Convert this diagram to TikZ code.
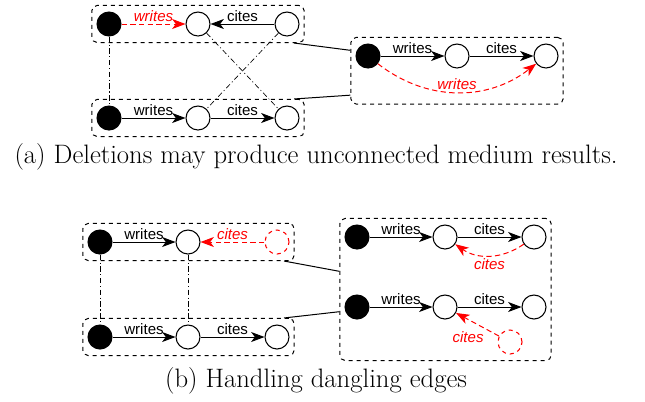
\documentclass[tikz,border=0pt]{standalone}
\usepackage{fontspec}
\setsansfont{Liberation Sans}
\usetikzlibrary{arrows.meta,fit}

\tikzset{
  pub/.style={circle,draw,fill=black,minimum size=18pt,inner sep=0pt,line width=0.8pt},
  doc/.style={circle,draw,fill=white,minimum size=18pt,inner sep=0pt,line width=0.8pt},
  gone/.style={doc,draw=red,dashed},
  group/.style={draw,dashed,rounded corners=4pt,line width=0.75pt,inner xsep=3.5pt,inner ysep=4.5pt},
  added/.style={red,dash pattern=on 4pt off 2.5pt},
  lbl/.style={font=\sffamily\fontsize{11.3}{13}\selectfont,inner sep=1.5pt},
  redlbl/.style={lbl,red,font=\sffamily\itshape\fontsize{11.3}{13}\selectfont},
  link/.style={dash pattern=on 4pt off 2pt on 0.8pt off 2pt,line width=0.5pt},
  subcap/.style={font=\fontsize{20}{23}\selectfont}
}

\begin{document}
\begin{tikzpicture}[x=0.75pt,y=-0.75pt,>={Stealth[length=10pt,width=7.5pt,inset=2.8pt]},line width=0.75pt]
      \useasboundingbox (0,0) rectangle (645,401);

      % (a)
      \node[pub] (a1) at (109,24)  {};
      \node[doc] (a2) at (198,24)  {};
      \node[doc] (a3) at (287,24)  {};
      \node[pub] (a4) at (109,118) {};
      \node[doc] (a5) at (198,118) {};
      \node[doc] (a6) at (287,118) {};
      \node[pub] (a7) at (368,56)  {};
      \node[doc] (a8) at (457,56)  {};
      \node[doc] (a9) at (546,56)  {};
      \coordinate (alow) at (457,98);

      \node[group,fit=(a1)(a3)] (ga1) {};
      \node[group,fit=(a4)(a6)] (ga2) {};
      \node[group,fit=(a7)(a9)(alow)] (ga3) {};

      \path[->,added] (a1) edge node[redlbl,above] {writes} (a2);
      \path[->] (a3) edge node[lbl,above] {cites}  (a2);
      \path[->] (a4) edge node[lbl,above] {writes} (a5);
      \path[->] (a5) edge node[lbl,above] {cites}  (a6);
      \path[->] (a7) edge node[lbl,above] {writes} (a8);
      \path[->] (a8) edge node[lbl,above] {cites}  (a9);
      \path[->,added] (a7) edge[bend right=38] node[redlbl,above] {writes} (a9);

      \draw[link] (a1) -- (a4);
      \draw[link] (a2) -- (a6);
      \draw[link] (a3) -- (a5);
      \draw ([xshift=-8pt]ga1.south east) -- ([yshift=-10pt]ga3.north west);
      \draw ([xshift=-8pt]ga2.north east) -- ([yshift=7pt]ga3.south west);

      \node[subcap] (capa) at (316,157) {(a) Deletions may produce unconnected medium results.};

      % (b)
      \node[pub]  (b1) at (100,242) {};
      \node[doc]  (b2) at (188,242) {};
      \node[gone] (b3) at (277,242) {};
      \node[pub]  (b4) at (100,337) {};
      \node[doc]  (b5) at (188,337) {};
      \node[doc]  (b6) at (277,337) {};
      \node[pub]  (b7) at (357,237) {};
      \node[doc]  (b8) at (445,237) {};
      \node[doc]  (b9) at (534,237) {};
      \node[pub]  (b10) at (357,307) {};
      \node[doc]  (b11) at (445,307) {};
      \node[doc]  (b12) at (534,307) {};
      \node[gone] (b13) at (510,342) {};

      \node[group,fit=(b1)(b3)] (gb1) {};
      \node[group,fit=(b4)(b6)] (gb2) {};
      \node[group,fit=(b7)(b9)(b13)(b12)] (gb3) {};

      \path[->] (b1) edge node[lbl,above] {writes} (b2);
      \path[->,added] (b3) edge node[redlbl,above] {cites} (b2);
      \path[->] (b4) edge node[lbl,above] {writes} (b5);
      \path[->] (b5) edge node[lbl,above] {cites}  (b6);
      \path[->] (b7) edge node[lbl,above] {writes} (b8);
      \path[->] (b8) edge node[lbl,above] {cites}  (b9);
      \path[->,added] (b9) edge[bend left=35] node[redlbl,below] {cites} (b8);
      \path[->] (b10) edge node[lbl,above] {writes} (b11);
      \path[->] (b11) edge node[lbl,above] {cites}  (b12);
      \path[->,added] (b13) edge node[redlbl,pos=0.3,below left] {cites} (b11);

      \draw[link] (b1) -- (b4);
      \draw[link] (b2) -- (b5);
      \draw ([xshift=-8pt]gb1.south east) -- ([yshift=-40pt]gb3.north west);
      \draw ([xshift=-8pt]gb2.north east) -- ([yshift=37pt]gb3.south west);

      \node[subcap] (capb) at (316,381) {(b) Handling dangling edges};
    \end{tikzpicture}
\end{document}
